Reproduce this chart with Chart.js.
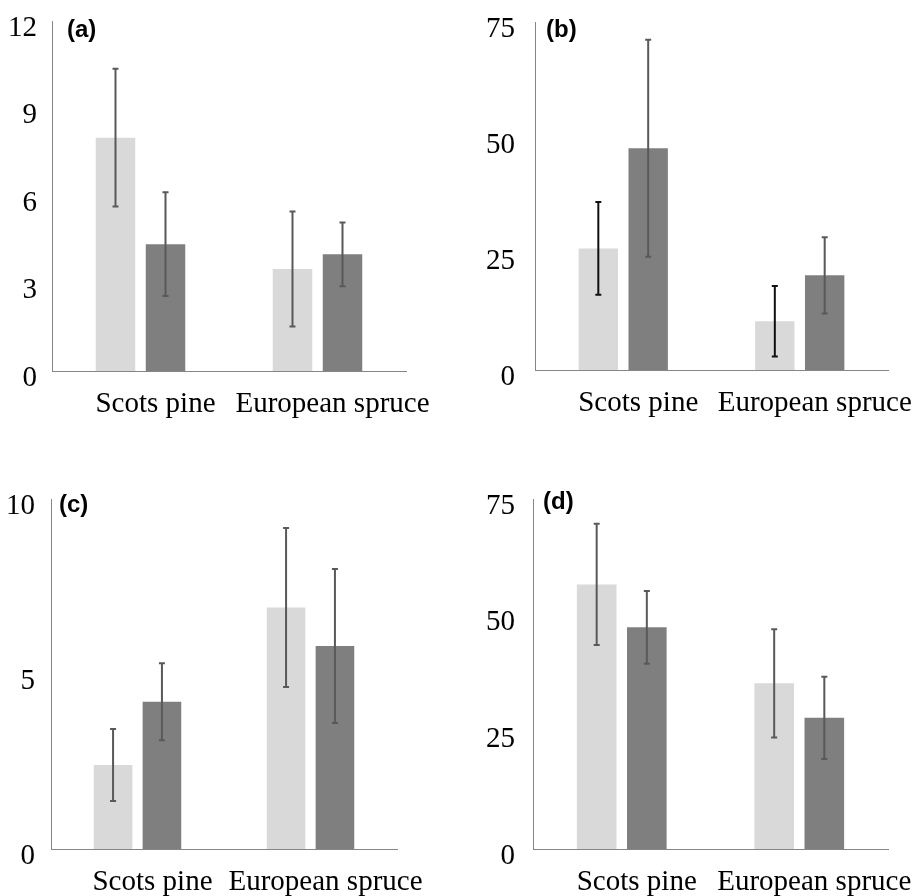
<!DOCTYPE html>
<html>
<head>
<meta charset="utf-8">
<script src="https://cdn.jsdelivr.net/npm/chart.js@4.4.1/dist/chart.umd.min.js"></script>
<style>
  html, body { margin: 0; padding: 0; background: #fff; }
  #wrap { position: relative; width: 921px; height: 896px; }
  #wrap canvas { position: absolute; }
</style>
</head>
<body>
<div id="wrap">
  <canvas id="chartA" width="460" height="445" style="left:0;top:0"></canvas>
  <canvas id="chartB" width="461" height="445" style="left:460px;top:0"></canvas>
  <canvas id="chartC" width="460" height="451" style="left:0;top:445px"></canvas>
  <canvas id="chartD" width="461" height="451" style="left:460px;top:445px"></canvas>
</div>
<script>
// categories
const species = ['Scots pine', 'European spruce'];

// (a)
const aLight = [8.0, 3.5];
const aLightErr = [2.36, 1.97];
const aDark = [4.35, 4.0];
const aDarkErr = [1.78, 1.09];
const aTicks = [0, 3, 6, 9, 12];

// (b)
const bLight = [26.2, 10.5];
const bLightErr = [10.0, 7.6];
const bDark = [47.8, 20.4];
const bDarkErr = [23.4, 8.2];
const bTicks = [0, 25, 50, 75];

// (c)
const cLight = [2.4, 6.9];
const cLightErr = [1.03, 2.27];
const cDark = [4.21, 5.8];
const cDarkErr = [1.1, 2.2];
const cTicks = [0, 5, 10];

// (d)
const dLight = [56.7, 35.5];
const dLightErr = [13.0, 11.6];
const dDark = [47.5, 28.1];
const dDarkErr = [7.8, 8.8];
const dTicks = [0, 25, 50, 75];

const LIGHT = '#d9d9d9';
const DARK = '#7f7f7f';
const AXIS = '#868686';
const ERR = '#595959';
const SERIF = '"Liberation Serif", "Times New Roman", serif';

// whiskers drawn through the y scale of each chart
const errorBars = {
    id: 'errorBars',
    afterDatasetsDraw(chart) {
        const ctx = chart.ctx;
        const y = chart.scales.y;
        chart.data.datasets.forEach((ds, i) => {
            const meta = chart.getDatasetMeta(i);
            meta.data.forEach((bar, j) => {
                const v = ds.data[j], e = ds.errors[j];
                const top = y.getPixelForValue(v + e);
                const bot = y.getPixelForValue(v - e);
                ctx.save();
                ctx.strokeStyle = ds.errorColor;
                ctx.lineWidth = 2;
                ctx.beginPath();
                ctx.moveTo(bar.x, top); ctx.lineTo(bar.x, bot);
                ctx.moveTo(bar.x - 3, top); ctx.lineTo(bar.x + 3, top);
                ctx.moveTo(bar.x - 3, bot); ctx.lineTo(bar.x + 3, bot);
                ctx.stroke();
                ctx.restore();
            });
        });
    }
};

// "(a)" etc. in the top-left corner of the plot area
const panelLetter = {
    id: 'panelLetter',
    afterDraw(chart, args, opts) {
        const ctx = chart.ctx;
        ctx.save();
        ctx.font = 'bold 24px "Liberation Sans", Arial, sans-serif';
        ctx.fillStyle = '#000';
        ctx.textBaseline = 'middle';
        ctx.fillText(opts.text, chart.chartArea.left + opts.dx, chart.chartArea.top + opts.dy);
        ctx.restore();
    }
};

function makePanel(id, light, lightErr, dark, darkErr, ticks, p) {
    const lightErrColor = p.lightErrColor || ERR;
    new Chart(document.getElementById(id), {
        type: 'bar',
        data: {
            labels: species,
            datasets: [
                { data: light, errors: lightErr, errorColor: lightErrColor, backgroundColor: LIGHT, borderWidth: 0 },
                { data: dark, errors: darkErr, errorColor: ERR, backgroundColor: DARK, borderWidth: 0 }
            ]
        },
        options: {
            responsive: false,
            animation: false,
            devicePixelRatio: 1,
            layout: { padding: { top: p.top, right: p.right, left: 0, bottom: 0 } },
            datasets: { bar: { categoryPercentage: 0.565, barPercentage: 0.79 } },
            plugins: {
                legend: { display: false },
                tooltip: { enabled: false },
                panelLetter: { text: p.letter, dx: p.dx, dy: p.dy }
            },
            scales: {
                x: {
                    grid: { display: false, drawTicks: false },
                    border: { display: true, color: AXIS, width: 1 },
                    ticks: {
                        color: '#000',
                        padding: 16,
                        labelOffset: 15,
                        autoSkip: false,
                        maxRotation: 0,
                        font: { family: SERIF, size: 29 }
                    },
                    afterFit: s => { s.height = p.xh; s.paddingLeft = 0; s.paddingRight = 0; }
                },
                y: {
                    min: 0,
                    max: ticks[ticks.length - 1],
                    grid: { display: false, drawTicks: false },
                    border: { display: true, color: AXIS, width: 1 },
                    afterBuildTicks: s => { s.ticks = ticks.map(v => ({ value: v })); },
                    ticks: {
                        color: '#000',
                        padding: p.tickPad,
                        labelOffset: 7,
                        font: { family: SERIF, size: 29 }
                    },
                    afterFit: s => { s.width = p.yw; s.paddingTop = 0; s.paddingBottom = 0; }
                }
            }
        },
        plugins: [errorBars, panelLetter]
    });
}

makePanel('chartA', aLight, aLightErr, aDark, aDarkErr, aTicks,
    { letter: '(a)', dx: 15, dy: 9, top: 21, right: 54, yw: 52, xh: 74, tickPad: 15 });
makePanel('chartB', bLight, bLightErr, bDark, bDarkErr, bTicks,
    { letter: '(b)', dx: 11, dy: 8, top: 22, right: 33, yw: 75, xh: 75, tickPad: 20, lightErrColor: '#111' });
makePanel('chartC', cLight, cLightErr, cDark, cDarkErr, cTicks,
    { letter: '(c)', dx: 8, dy: 6, top: 54, right: 63, yw: 51, xh: 47, tickPad: 16 });
makePanel('chartD', dLight, dLightErr, dDark, dDarkErr, dTicks,
    { letter: '(d)', dx: 10, dy: 3, top: 54, right: 33, yw: 73, xh: 47, tickPad: 18 });
</script>
</body>
</html>
